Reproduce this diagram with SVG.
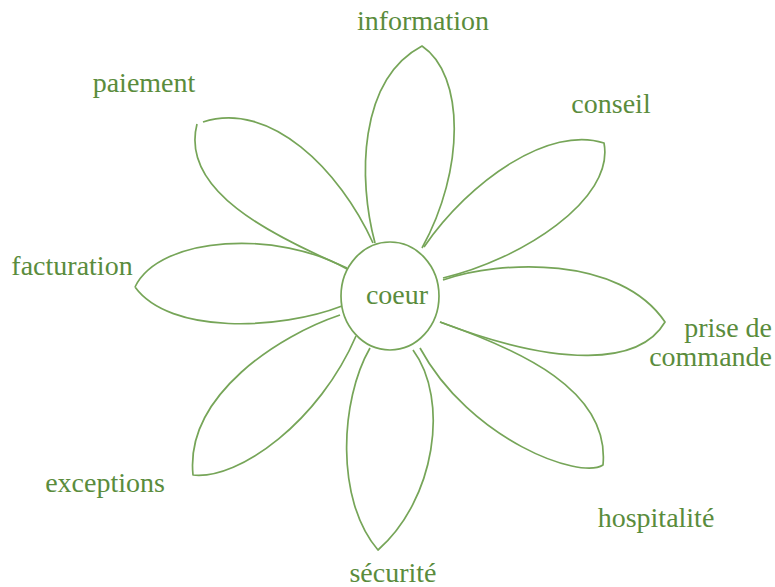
<svg xmlns="http://www.w3.org/2000/svg" width="775" height="587" viewBox="0 0 775 587">
<style>
.p{fill:none;stroke:#76a558;stroke-width:1.7;stroke-linejoin:round}
.t{font-family:'Liberation Serif','DejaVu Serif',serif;font-size:28px;fill:#5a8c3c}
</style>
<rect width="775" height="587" fill="#ffffff"/>
<g id="petals">
<g id="petal-information"><path class="p" d="M375 243 C358 180 358 80 422 46 C465 75 465 170 422 248"/></g>
<g id="petal-conseil"><path class="p" d="M424 247 C470 180 550 125 604 143 C615 200 520 260 443 278"/></g>
<g id="petal-prise"><path class="p" d="M443 280 C500 260 620 255 665 322 C640 365 560 368 440 322"/></g>
<g id="petal-hospitalite"><path class="p" d="M440 322 C520 350 610 390 603 465 C580 480 470 440 420 348"/></g>
<g id="petal-securite"><path class="p" d="M370 348 C340 400 335 500 378 550 C435 500 450 400 413 350"/></g>
<g id="petal-exceptions"><path class="p" d="M340 315 C280 335 185 395 193 475 C240 480 320 420 356 336"/></g>
<g id="petal-facturation"><path class="p" d="M135 287 C160 235 280 230 347 269 M342 306 C280 330 170 335 135 287"/></g>
<g id="petal-paiement"><path class="p" d="M203 122 C270 100 340 170 373 243 M347 268 C270 235 180 190 197 124"/></g>
</g>
<g id="coeur"><ellipse class="p" cx="390" cy="296" rx="49" ry="54" fill="#ffffff"/><text class="t" x="397" y="304" text-anchor="middle">coeur</text></g>
<g id="labels">
<text id="l-information" class="t" x="423" y="30" text-anchor="middle">information</text>
<text id="l-paiement" class="t" x="144" y="92" text-anchor="middle">paiement</text>
<text id="l-conseil" class="t" x="611" y="113" text-anchor="middle">conseil</text>
<text id="l-facturation" class="t" x="72" y="275" text-anchor="middle">facturation</text>
<text id="l-prise" class="t" text-anchor="end"><tspan x="772" y="337">prise de</tspan><tspan x="772" y="366">commande</tspan></text>
<text id="l-exceptions" class="t" x="105" y="492" text-anchor="middle">exceptions</text>
<text id="l-hospitalite" class="t" x="656" y="527" text-anchor="middle">hospitalité</text>
<text id="l-securite" class="t" x="393" y="582" text-anchor="middle">sécurité</text>
</g>
</svg>
